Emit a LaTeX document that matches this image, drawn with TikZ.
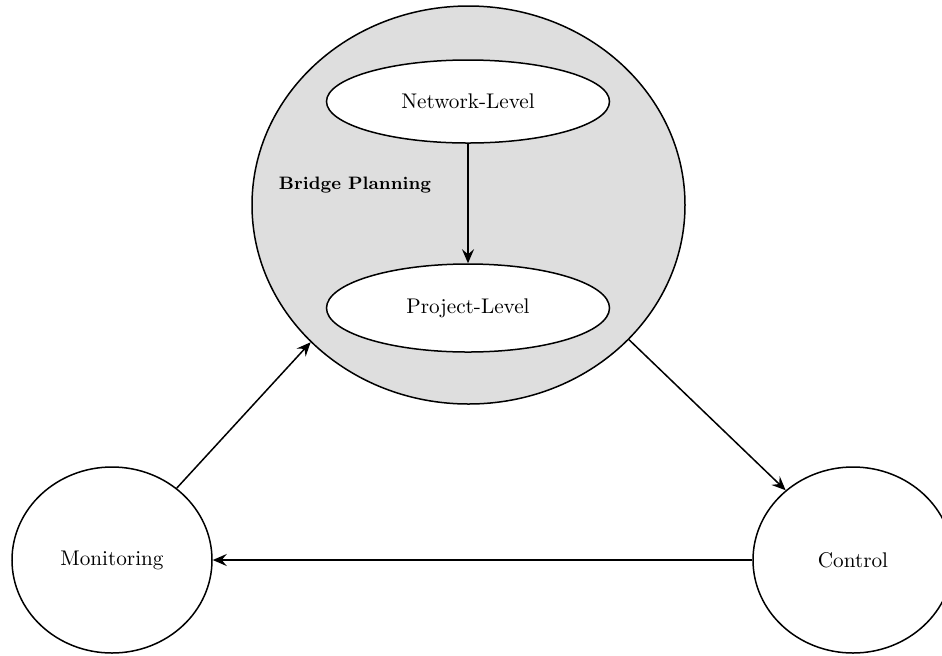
\documentclass[tikz,border=0pt]{standalone}
\usepackage{xcolor}
\usepackage{tikz}
\usetikzlibrary{arrows.meta, shapes.geometric}

\begin{document}
\begin{tikzpicture}[x=0.5pt, y=-0.5pt, font=\fontsize{10.6}{12}\selectfont,
  oval/.style={draw, ellipse, line width=0.75pt, inner sep=0pt},
  conn/.style={line width=0.75pt, -{Stealth[length=7pt, width=6pt, inset=2.5pt]}}]
\useasboundingbox (0,0) rectangle (942,655);
\node[oval, fill=black!13, minimum width=216.5pt, minimum height=199pt] (plan) at (468.5,205) {};
\node[oval, fill=white, minimum width=141.5pt, minimum height=41.5pt] (net) at (468,101.5) {Network-Level};
\node[oval, fill=white, minimum width=141.5pt, minimum height=44pt] (proj) at (468,308) {Project-Level};
\node[font=\fontsize{9}{10}\selectfont\bfseries] (lbl) at (355,185) {Bridge Planning};
\node[oval, minimum width=100pt, minimum height=93pt] (mon) at (112,560) {Monitoring};
\node[oval, minimum width=100pt, minimum height=93pt] (ctrl) at (853,560) {Control};
\draw[conn] (net) -- (proj);
\draw[conn] (mon.48) -- (plan.221);
\draw[conn] (plan.320) -- (ctrl.134);
\draw[conn] (ctrl.west) -- (mon.east);
\end{tikzpicture}
\end{document}
